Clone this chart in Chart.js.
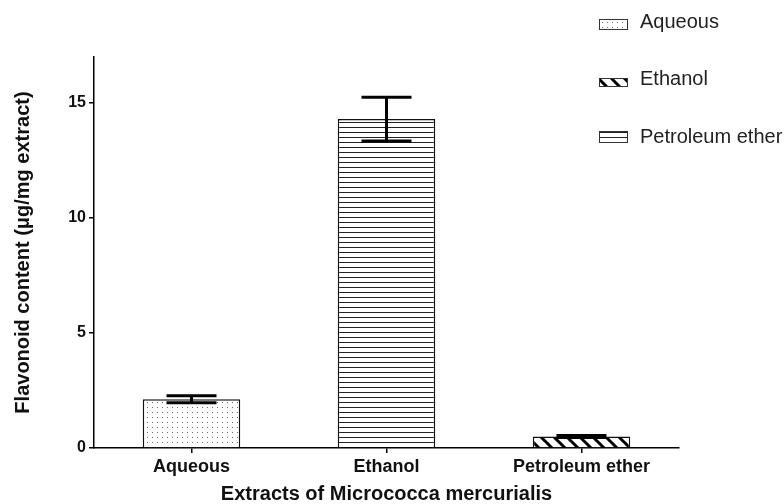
<!DOCTYPE html>
<html lang="en">
<head>
<meta charset="UTF-8">
<title>Flavonoid content of Micrococca mercurialis extracts</title>
<script src="https://cdn.jsdelivr.net/npm/chart.js"></script>
<style>
  body { margin: 0; background: #fff; }
  #wrap { width: 784px; height: 504px; }
</style>
</head>
<body>
<div id="wrap"><canvas id="flavChart"></canvas></div>
<script>
const categories = ['Aqueous', 'Ethanol', 'Petroleum ether'];
const flavonoid = [2.12, 14.3, 0.5];
const errors = [0.15, 0.95, 0.04];
const yTicks = [0, 5, 10, 15];
const legendLabels = ['Aqueous', 'Ethanol', 'Petroleum ether'];
const xTitle = 'Extracts of Micrococca mercurialis';
const yTitle = 'Flavonoid content (μg/mg extract)';

const FONT = 'Arial, "Liberation Sans", sans-serif';

function tile(w, h, draw) {
    const c = document.createElement('canvas');
    c.width = w; c.height = h;
    const g = c.getContext('2d');
    g.fillStyle = '#fff';
    g.fillRect(0, 0, w, h);
    draw(g);
    return g.createPattern(c, 'repeat');
}

const dots = tile(5, 5, g => { g.fillStyle = '#666'; g.fillRect(2, 2, 1, 1); });
const hlines = tile(5, 5, g => { g.fillStyle = '#222'; g.fillRect(0, 2, 5, 1); });
const diag = tile(13, 13, g => {
    g.strokeStyle = '#000';
    g.lineWidth = 3;
    g.beginPath();
    [-13, 0, 13].forEach(o => { g.moveTo(o - 1, -1); g.lineTo(o + 14, 14); });
    g.stroke();
});

// bar fills as they appear in the figure, and the legend swatches as printed
const barFills = [dots, hlines, diag];
const legendFills = [dots, diag, hlines];

const errorBars = {
    id: 'errorBars',
    afterDatasetsDraw(chart) {
        const ctx = chart.ctx;
        const y = chart.scales.y;
        const meta = chart.getDatasetMeta(0);
        ctx.save();
        ctx.strokeStyle = '#000';
        ctx.lineWidth = 3;
        meta.data.forEach((bar, i) => {
            const top = y.getPixelForValue(flavonoid[i] + errors[i]);
            const bot = y.getPixelForValue(flavonoid[i] - errors[i]);
            ctx.beginPath();
            ctx.moveTo(bar.x, top); ctx.lineTo(bar.x, bot);
            ctx.moveTo(bar.x - 25, top); ctx.lineTo(bar.x + 25, top);
            ctx.moveTo(bar.x - 25, bot); ctx.lineTo(bar.x + 25, bot);
            ctx.stroke();
        });
        ctx.restore();
    },
    afterDraw(chart) {
        const ctx = chart.ctx;
        const a = chart.chartArea;
        ctx.save();
        // x axis title
        ctx.fillStyle = '#111';
        ctx.font = 'bold 20px ' + FONT;
        ctx.textAlign = 'center';
        ctx.textBaseline = 'alphabetic';
        ctx.fillText(xTitle, (a.left + a.right) / 2, 500);
        ctx.restore();

        // legend
        ctx.save();
        const boxes = [[19, 10], [78, 8], [131, 11]];
        const baselines = [28, 85, 143];
        ctx.font = '20px ' + FONT;
        ctx.textAlign = 'left';
        ctx.textBaseline = 'alphabetic';
        legendLabels.forEach((lab, i) => {
            const [by, bh] = boxes[i];
            ctx.fillStyle = legendFills[i];
            ctx.fillRect(599, by, 28, bh);
            ctx.strokeStyle = '#333';
            ctx.lineWidth = 1;
            ctx.strokeRect(599.5, by + 0.5, 28, bh);
            ctx.fillStyle = '#222';
            ctx.fillText(lab, 640, baselines[i]);
        });
        ctx.restore();
    }
};

new Chart(document.getElementById('flavChart'), {
    type: 'bar',
    data: {
        labels: categories,
        datasets: [{
            data: flavonoid,
            backgroundColor: barFills,
            borderColor: '#111',
            borderWidth: 1.5,
            barPercentage: 0.5,
            categoryPercentage: 1
        }]
    },
    options: {
        responsive: true,
        maintainAspectRatio: false,
        animation: false,
        layout: { padding: { top: 57, right: 105, left: 0, bottom: 0 } },
        plugins: { legend: { display: false }, tooltip: { enabled: false } },
        scales: {
            x: {
                afterFit(s) { s.height = 56; },
                grid: { display: true, drawOnChartArea: false, offset: false, color: '#000', lineWidth: 1.5, tickLength: 5 },
                border: { color: '#000', width: 1.5 },
                ticks: { color: '#111', padding: 3, font: { family: FONT, size: 18, weight: 'bold' } }
            },
            y: {
                min: 0,
                max: 17,
                afterFit(s) { s.width = 94; },
                afterBuildTicks(s) { s.ticks = yTicks.map(v => ({ value: v })); },
                grid: { drawOnChartArea: false, color: '#000', lineWidth: 1.5, tickLength: 5 },
                border: { color: '#000', width: 1.5 },
                ticks: { color: '#111', padding: 3, font: { family: FONT, size: 16, weight: 'bold' } },
                title: {
                    display: true,
                    text: yTitle,
                    color: '#111',
                    padding: { top: 11, bottom: 0 },
                    font: { family: FONT, size: 20, weight: 'bold' }
                }
            }
        }
    },
    plugins: [errorBars]
});
</script>
</body>
</html>
